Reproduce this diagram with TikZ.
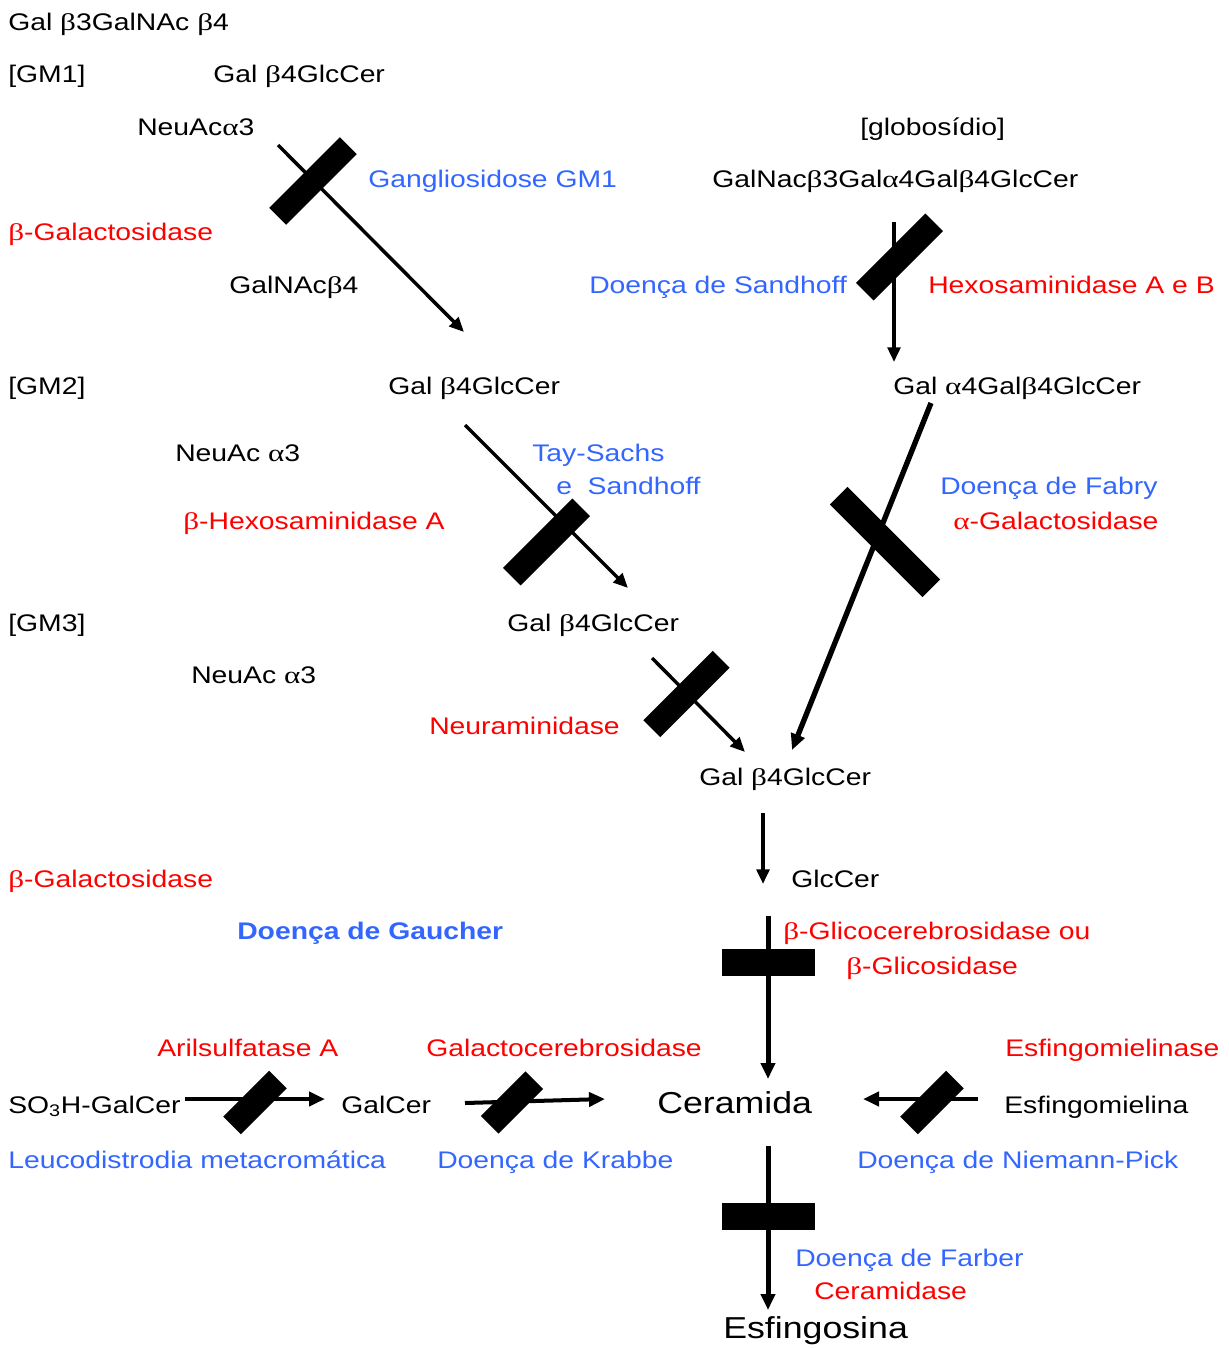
\documentclass[tikz,border=0pt]{standalone}
\usepackage{fontspec}
\setmainfont{Liberation Sans}[FakeStretch=1.18]
\newfontfamily\grk{Liberation Serif}[FakeStretch=1.3]
\newcommand\gb{{\grk β}}
\newcommand\ga{{\grk α}}
\newcommand\mysz{\fontsize{18}{21}\selectfont}
\newcommand\mybig{\fontsize{22.7}{26}\selectfont}
\usetikzlibrary{arrows.meta}
\definecolor{myblue}{RGB}{51,102,255}
\definecolor{myred}{RGB}{255,0,0}
\tikzset{
  txt/.style={anchor=base west, inner sep=0pt, font=\mysz},
  blu/.style={text=myblue},
  rd/.style={text=myred},
  blk/.style={fill=black, draw=none, inner sep=0pt, rectangle},
  arr/.style={-{Triangle[length=11pt,width=9.5pt]}, line width=2.6pt},
  harr/.style={-{Triangle[length=12pt,width=10.5pt]}, line width=3pt},
  tarr/.style={-{Triangle[length=12pt,width=10.5pt]}, line width=3.75pt},
}
\begin{document}
\begin{tikzpicture}[x=0.75pt,y=-0.75pt]
\useasboundingbox[fill=white] (0,0) rectangle (1228,1349);

% texts
\node[txt] (t1) at (8,30) {Gal \gb3GalNAc \gb4};
\node[txt] (gm1) at (8,82) {[GM1]};
\node[txt] (gm1c) at (213,82) {Gal \gb4GlcCer};
\node[txt] (neu1) at (137,135) {NeuAc\ga3};
\node[txt] (glob) at (860,135) {[globosídio]};
\node[txt,blu] (gang) at (368,187.5) {Gangliosidose GM1};
\node[txt] (globc) at (712,187.5) {GalNac\gb3Gal\ga4Gal\gb4GlcCer};
\node[txt,rd] (bgal1) at (8,240) {\gb-Galactosidase};
\node[txt] (galnac) at (229,293) {GalNAc\gb4};
\node[txt,blu] (sand) at (589,293) {Doença de Sandhoff};
\node[txt,rd] (hex) at (928,293) {Hexosaminidase A e B};
\node[txt] (gm2) at (8,394) {[GM2]};
\node[txt] (gm2c) at (388,394) {Gal \gb4GlcCer};
\node[txt] (gb3) at (893,394) {Gal \ga4Gal\gb4GlcCer};
\node[txt] (neu2) at (175,461) {NeuAc \ga3};
\node[txt,blu] (tay) at (532,461) {Tay-Sachs};
\node[txt,blu] (tay2) at (556,494) {e\ \ Sandhoff};
\node[txt,blu] (fab) at (940,494) {Doença de Fabry};
\node[txt,rd] (bhex) at (183,529) {\gb-Hexosaminidase A};
\node[txt,rd] (agal) at (953,529) {\ga-Galactosidase};
\node[txt] (gm3) at (8,631) {[GM3]};
\node[txt] (gm3c) at (507,631) {Gal \gb4GlcCer};
\node[txt] (neu3) at (191,683) {NeuAc \ga3};
\node[txt,rd] (neur) at (429,734) {Neuraminidase};
\node[txt] (lac) at (699,785) {Gal \gb4GlcCer};
\node[txt,rd] (bgal2) at (8,887) {\gb-Galactosidase};
\node[txt] (glc) at (791,887) {GlcCer};
\node[txt,blu,font=\mysz\bfseries] (gau) at (237,939) {Doença de Gaucher};
\node[txt,rd] (bglc) at (783,939) {\gb-Glicocerebrosidase ou};
\node[txt,rd] (bglc2) at (846,974) {\gb-Glicosidase};
\node[txt,rd] (aril) at (157,1056) {Arilsulfatase A};
\node[txt,rd] (galcb) at (426,1056) {Galactocerebrosidase};
\node[txt,rd] (esfase) at (1005,1056) {Esfingomielinase};
\node[txt] (so3) at (8,1113) {SO\textsubscript{3}H-GalCer};
\node[txt] (galcer) at (341,1113) {GalCer};
\node[txt,font=\mybig] (cer) at (657,1113) {Ceramida};
\node[txt] (esf) at (1004,1113) {Esfingomielina};
\node[txt,blu] (leuco) at (8,1168) {Leucodistrodia metacromática};
\node[txt,blu] (krab) at (437,1168) {Doença de Krabbe};
\node[txt,blu] (nie) at (857,1168) {Doença de Niemann-Pick};
\node[txt,blu] (farb) at (795,1266) {Doença de Farber};
\node[txt,rd] (ceras) at (814,1299) {Ceramidase};
\node[txt,font=\mybig] (esfo) at (723,1338) {Esfingosina};

% connector end points
\coordinate (a1s) at (278,145);  \coordinate (a1e) at (464,332);
\coordinate (a2s) at (894,222);  \coordinate (a2e) at (894,362);
\coordinate (a3s) at (465,425);  \coordinate (a3e) at (628,588);
\coordinate (a4s) at (931,403);  \coordinate (a4e) at (792,750);
\coordinate (a5s) at (652,658);  \coordinate (a5e) at (745,752);
\coordinate (a6s) at (763,813);  \coordinate (a6e) at (763,884);
\coordinate (a7s) at (768,916);  \coordinate (a7e) at (768,1079);
\coordinate (a8s) at (768,1146); \coordinate (a8e) at (768,1310);
\coordinate (a9s) at (185,1099); \coordinate (a9e) at (325,1099);
\coordinate (a10s) at (465,1103); \coordinate (a10e) at (605,1099);
\coordinate (a11s) at (978,1099); \coordinate (a11e) at (863,1099);

\draw[arr] (a1s) -- (a1e);
\draw[arr] (a2s) -- (a2e);
\draw[arr] (a3s) -- (a3e);
\draw[tarr,line width=4pt] (a4s) -- (a4e);
\draw[arr] (a5s) -- (a5e);
\draw[arr,line width=3pt] (a6s) -- (a6e);
\draw[tarr] (a7s) -- (a7e);
\draw[tarr] (a8s) -- (a8e);
\draw[harr] (a9s) -- (a9e);
\draw[harr] (a10s) -- (a10e);
\draw[harr] (a11s) -- (a11e);

% blocks
\node[blk,rotate=45,minimum width=75pt,minimum height=18pt] (b1) at (313,181) {};
\node[blk,rotate=45,minimum width=73.5pt,minimum height=18.75pt] (b2) at (899.5,257) {};
\node[blk,rotate=45,minimum width=73.5pt,minimum height=18.75pt] (b3) at (546.5,542) {};
\node[blk,rotate=-45,minimum width=98.25pt,minimum height=18.75pt] (b4) at (885,542) {};
\node[blk,rotate=45,minimum width=73.5pt,minimum height=18pt] (b5) at (686.5,694) {};
\node[blk,minimum width=69.75pt,minimum height=20.25pt] (b6) at (768.5,962.5) {};
\node[blk,minimum width=69.75pt,minimum height=20.25pt] (b7) at (768.5,1216.5) {};
\node[blk,rotate=45,minimum width=48.75pt,minimum height=18.75pt] (b8) at (255,1102.5) {};
\node[blk,rotate=45,minimum width=47.25pt,minimum height=18.75pt] (b9) at (512,1102.5) {};
\node[blk,rotate=45,minimum width=48.75pt,minimum height=18.75pt] (b10) at (932,1102.5) {};
\end{tikzpicture}
\end{document}
